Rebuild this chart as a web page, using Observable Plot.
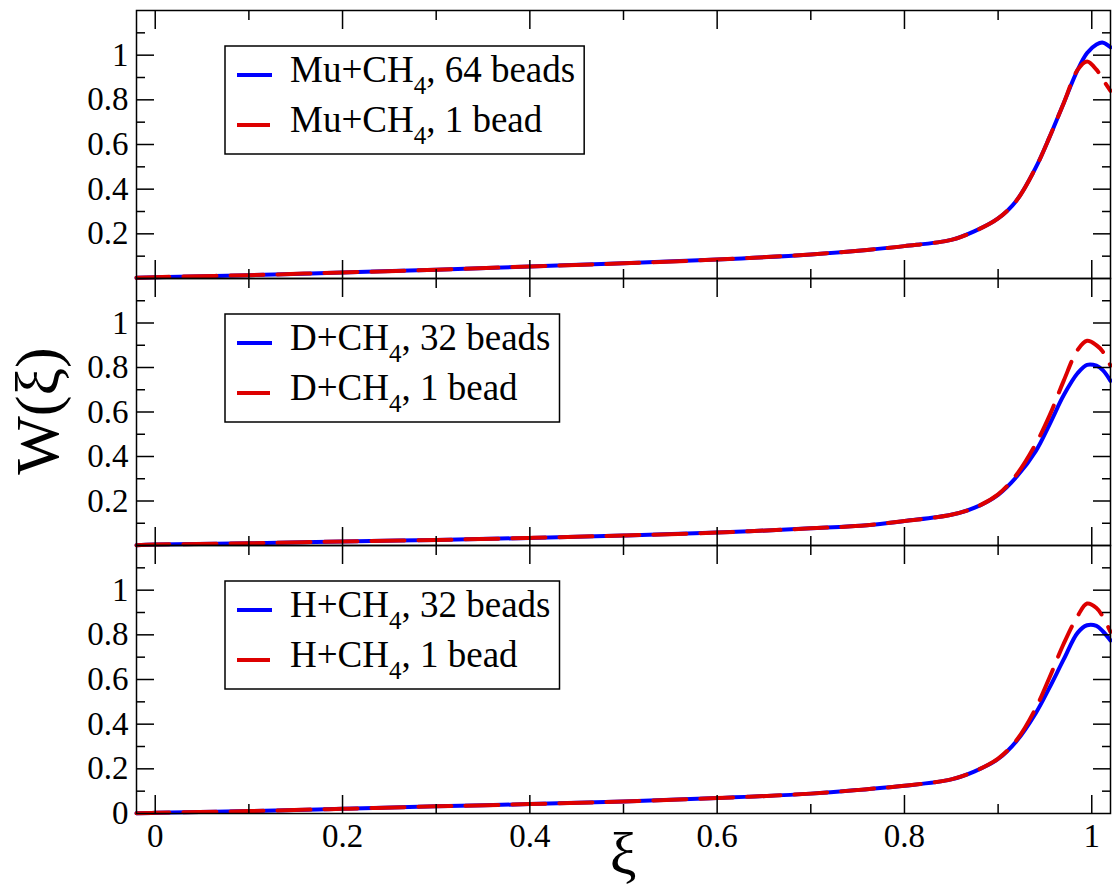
<!DOCTYPE html>
<html><head><meta charset="utf-8">
<script src="https://cdn.jsdelivr.net/npm/d3@7"></script>
<script src="https://cdn.jsdelivr.net/npm/@observablehq/plot@0.6"></script>
<style>
body{margin:0;background:#fff;}
#wrap{position:relative;width:1112px;height:895px;overflow:hidden;}
#wrap > svg, #wrap > figure{position:absolute;left:0;margin:0;}
#wrap text{font-family:"Liberation Serif","DejaVu Serif","Times New Roman",serif;}
</style></head><body><div id="wrap"></div>
<script>
// ---- data ----
const xi = [-0.02, 0, 0.1, 0.2, 0.3, 0.4, 0.5, 0.6, 0.7, 0.76, 0.8, 0.85, 0.875, 0.9, 0.92, 0.94, 0.955, 0.97, 0.985, 0.995, 1.005, 1.012, 1.02];
const mu64 = [0.003, 0.006, 0.015, 0.027, 0.039, 0.054, 0.068, 0.085, 0.108, 0.128, 0.145, 0.173, 0.212, 0.269, 0.351, 0.495, 0.634, 0.785, 0.935, 1.01, 1.048, 1.056, 1.035];
const mu1  = [0.003, 0.006, 0.015, 0.027, 0.039, 0.054, 0.068, 0.085, 0.108, 0.128, 0.145, 0.173, 0.212, 0.269, 0.351, 0.495, 0.634, 0.785, 0.935, 0.972, 0.935, 0.89, 0.84];
const d32  = [0.001, 0.004, 0.010, 0.018, 0.025, 0.034, 0.045, 0.058, 0.077, 0.091, 0.110, 0.138, 0.170, 0.228, 0.31, 0.423, 0.545, 0.675, 0.775, 0.812, 0.808, 0.787, 0.74];
const d1   = [0.001, 0.004, 0.010, 0.018, 0.025, 0.034, 0.045, 0.058, 0.077, 0.091, 0.110, 0.138, 0.170, 0.23, 0.32, 0.455, 0.585, 0.74, 0.88, 0.92, 0.90, 0.87, 0.808];
const h32  = [0.001, 0.003, 0.011, 0.021, 0.032, 0.042, 0.054, 0.069, 0.089, 0.109, 0.124, 0.153, 0.189, 0.244, 0.326, 0.448, 0.565, 0.69, 0.81, 0.843, 0.84, 0.815, 0.775];
const h1   = [0.001, 0.003, 0.011, 0.021, 0.032, 0.042, 0.054, 0.069, 0.089, 0.109, 0.124, 0.153, 0.189, 0.246, 0.33, 0.47, 0.61, 0.76, 0.885, 0.94, 0.92, 0.88, 0.813];

const panelSystems = ["Mu", "D", "H"];
const panelBeads = ["64 beads", "32 beads", "32 beads"];
const panelMany = [mu64, d32, h32];
const panelOne = [mu1, d1, h1];

const yMajor = [0.2, 0.4, 0.6, 0.8, 1];
const yMinor = [0.1, 0.3, 0.5, 0.7, 0.9, 1.1];
const yLabelsUpper = [0.2, 0.4, 0.6, 0.8, 1];
const yLabelsBottom = [0, 0.2, 0.4, 0.6, 0.8, 1];
const xMajor = [0, 0.2, 0.4, 0.6, 0.8, 1];
const xMinor = [0.1, 0.3, 0.5, 0.7, 0.9];
const xLabels = [0, 0.2, 0.4, 0.6, 0.8, 1];

// ---- layout ----
const W = 1112;
const frames = [[10, 278], [278, 545], [545, 813]];
const BLUE = "#0000ff", RED = "#dd0000";
const FONT = "Liberation Serif, DejaVu Serif, Times New Roman, serif";
const wrap = document.getElementById("wrap");
const fmt = d => String(d);
const blank = () => "";

frames.forEach(([t, b], k) => {
  const last = k === 2;
  const mt = 10, mb = last ? 70 : 10;
  const rowsMany = xi.map((x, i) => ({x, w: panelMany[k][i]}));
  const rowsOne = xi.map((x, i) => ({x, w: panelOne[k][i]}));
  const marks = [
    Plot.line(rowsMany, {x: "x", y: "w", stroke: BLUE, strokeWidth: 4, curve: "catmull-rom"}),
    Plot.line(rowsOne, {x: "x", y: "w", stroke: RED, strokeWidth: 4, strokeDasharray: "33,14", curve: "catmull-rom"}),
    Plot.frame({stroke: "black", strokeWidth: 1.5}),
    Plot.axisY(yMajor, {anchor: "left", tickSize: -18, tickFormat: blank, strokeWidth: 1.5, label: null}),
    Plot.axisY(yMinor, {anchor: "left", tickSize: -9, tickFormat: blank, strokeWidth: 1.5, label: null}),
    Plot.axisY(yMajor, {anchor: "right", tickSize: -18, tickFormat: blank, strokeWidth: 1.5, label: null}),
    Plot.axisY(yMinor, {anchor: "right", tickSize: -9, tickFormat: blank, strokeWidth: 1.5, label: null}),
    Plot.axisX(xMajor, {anchor: "top", tickSize: -18, tickFormat: blank, strokeWidth: 1.5, label: null}),
    Plot.axisX(xMinor, {anchor: "top", tickSize: -9, tickFormat: blank, strokeWidth: 1.5, label: null}),
    Plot.axisX(xMajor, {anchor: "bottom", tickSize: -18, tickFormat: blank, strokeWidth: 1.5, label: null}),
    Plot.axisX(xMinor, {anchor: "bottom", tickSize: -9, tickFormat: blank, strokeWidth: 1.5, label: null}),
    Plot.axisY(last ? yLabelsBottom : yLabelsUpper, {anchor: "left", tickSize: 0, tickPadding: 8, fontSize: 33, tickFormat: fmt, label: null, fill: "black"})
  ];
  if (last) marks.push(Plot.axisX(xLabels, {anchor: "bottom", tickSize: 0, tickPadding: 10, fontSize: 33, tickFormat: fmt, label: null, fill: "black"}));
  const svg = Plot.plot({
    width: W, height: (b - t) + mt + mb,
    marginLeft: 136, marginRight: 2, marginTop: mt, marginBottom: mb,
    x: {domain: [-0.02, 1.02], label: null},
    y: {domain: [0, 1.2], label: null},
    style: {fontFamily: FONT, background: "transparent", color: "black", overflow: "visible"},
    marks
  });
  svg.style.position = "absolute";
  svg.style.top = (t - mt) + "px";
  svg.style.left = "0px";
  wrap.appendChild(svg);
});

// ---- overlay: legends and axis titles ----
const ov = d3.select(wrap).append("svg")
  .attr("width", W).attr("height", 895)
  .style("position", "absolute").style("top", "0px").style("left", "0px")
  .attr("font-family", FONT);

frames.forEach(([t], k) => {
  const g = ov.append("g");
  const rect = g.append("rect").attr("x", 225).attr("y", t + 36).attr("height", 108)
    .attr("fill", "white").attr("stroke", "black").attr("stroke-width", 1.5);
  const entries = [
    {color: BLUE, len: 35, suffix: ", " + panelBeads[k]},
    {color: RED, len: 33, suffix: ", 1 bead"}
  ];
  let maxW = 0;
  entries.forEach((e, i) => {
    g.append("line").attr("x1", 237).attr("x2", 237 + e.len)
      .attr("y1", t + 65 + 50 * i).attr("y2", t + 65 + 50 * i)
      .attr("stroke", e.color).attr("stroke-width", 4);
    const tx = g.append("text").attr("x", 290).attr("y", t + 72 + 50 * i)
      .attr("font-size", 37).attr("fill", "black");
    tx.append("tspan").text(panelSystems[k] + "+CH");
    tx.append("tspan").attr("font-size", 25).attr("dy", 12).text("4");
    tx.append("tspan").attr("dy", -12).text(e.suffix);
    maxW = Math.max(maxW, tx.node().getComputedTextLength());
  });
  rect.attr("width", 290 - 225 + maxW + 9);
});

ov.append("text").attr("transform", "translate(58,411) rotate(-90)")
  .attr("text-anchor", "middle").attr("font-size", 62).attr("fill", "black").text("W(ξ)");
ov.append("text").attr("x", 623).attr("y", 874)
  .attr("text-anchor", "middle").attr("font-size", 60).attr("fill", "black").text("ξ");
</script></body></html>
